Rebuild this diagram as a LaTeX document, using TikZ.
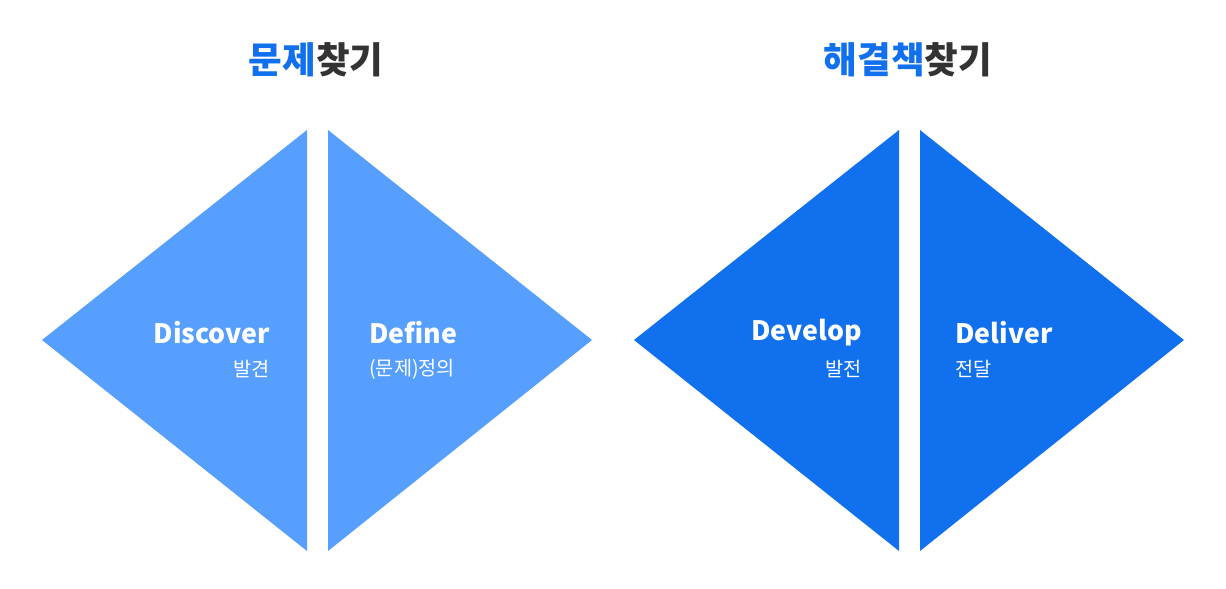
\documentclass[tikz,border=0pt]{standalone}
\usepackage{fontspec}
\setmainfont{Noto Sans CJK KR}
\definecolor{lightblue}{HTML}{579FFF}
\definecolor{darkblue}{HTML}{1170EE}
\definecolor{titlegray}{HTML}{333333}
\tikzset{
  label1/.style={text=white, font=\fontsize{19}{22}\selectfont\bfseries, inner sep=0pt},
  label2/.style={text=white, font=\fontsize{14}{16}\selectfont, inner sep=0pt},
  title/.style={font=\fontsize{26}{30}\selectfont\bfseries, inner sep=0pt}
}
\begin{document}
\begin{tikzpicture}[x=0.025cm, y=-0.025cm]
  \useasboundingbox (0,0) rectangle (1226,589);

  % 문제찾기
  \node[title] (t1) at (316,60) {\textcolor{darkblue}{문제}\textcolor{titlegray}{찾기}};
  \fill[lightblue] (42,340) -- (307,130) -- (307,551) -- cycle;
  \fill[lightblue] (328,130) -- (592,340) -- (328,551) -- cycle;
  \node[label1, anchor=east] (disc) at (270,333) {Discover};
  \node[label2, anchor=east] (disck) at (270,369) {발견};
  \node[label1, anchor=west] (defi) at (369,333) {Define};
  \node[label2, anchor=west] (defik) at (369,369) {(문제)정의};

  % 해결책찾기
  \node[title] (t2) at (908,60) {\textcolor{darkblue}{해결책}\textcolor{titlegray}{찾기}};
  \fill[darkblue] (634,340) -- (899,130) -- (899,551) -- cycle;
  \fill[darkblue] (920,130) -- (1184,340) -- (920,551) -- cycle;
  \node[label1, anchor=east] (deve) at (862,333) {Develop};
  \node[label2, anchor=east] (devek) at (862,369) {발전};
  \node[label1, anchor=west] (deli) at (955,333) {Deliver};
  \node[label2, anchor=west] (delik) at (955,369) {전달};

\end{tikzpicture}
\end{document}
